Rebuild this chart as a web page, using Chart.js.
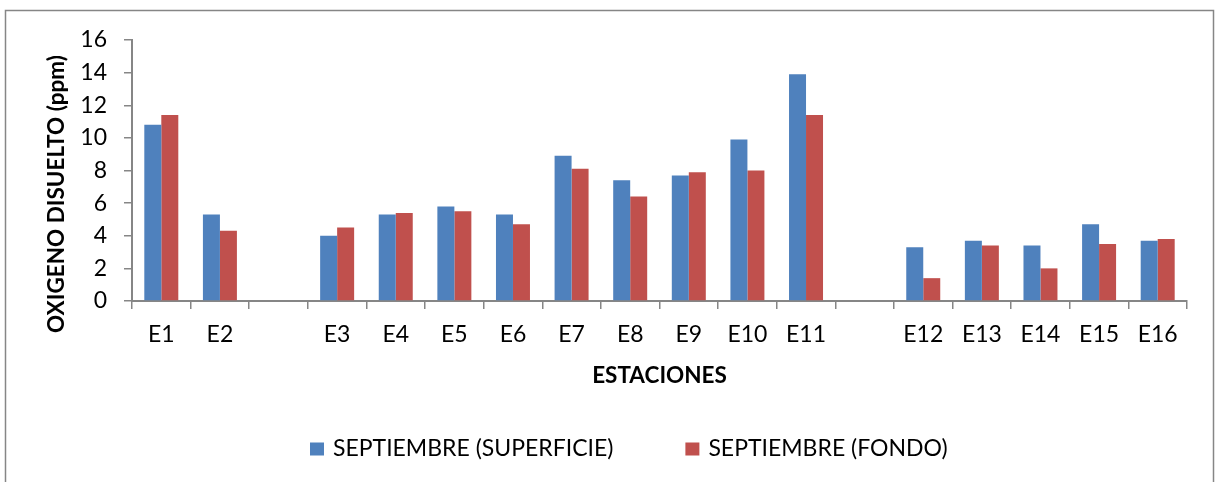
<!DOCTYPE html>
<html lang="es">
<head>
<meta charset="utf-8">
<title>Oxigeno disuelto</title>
<script src="https://cdn.jsdelivr.net/npm/chart.js@4.4.1/dist/chart.umd.min.js"></script>
<style>
  html, body { margin: 0; padding: 0; background: #fff; }
  #contenedor { position: relative; width: 1216px; height: 482px; }
</style>
</head>
<body>
<div id="contenedor"><canvas id="graficaOxigeno"></canvas></div>
<script>
// estaciones (los huecos separan los tramos de muestreo)
var estaciones = ["E1", "E2", "", "E3", "E4", "E5", "E6", "E7", "E8", "E9", "E10", "E11", "", "E12", "E13", "E14", "E15", "E16"];
var superficie = [10.8, 5.3, null, 4.0, 5.3, 5.8, 5.3, 8.9, 7.4, 7.7, 9.9, 13.9, null, 3.3, 3.7, 3.4, 4.7, 3.7];
var fondo = [11.4, 4.3, null, 4.5, 5.4, 5.5, 4.7, 8.1, 6.4, 7.9, 8.0, 11.4, null, 1.4, 3.4, 2.0, 3.5, 3.8];
var ticksY = [0, 2, 4, 6, 8, 10, 12, 14, 16];

var gris = "#868686";
var fuente = "Lato, 'Open Sans', sans-serif";

// marco, titulo del eje Y y leyenda inferior
var rotulos = {
    id: "rotulos",
    beforeDraw: function (chart) {
        var ctx = chart.ctx;
        ctx.save();
        ctx.fillStyle = "#fff";
        ctx.fillRect(0, 0, chart.width, chart.height);
        ctx.strokeStyle = gris;
        ctx.lineWidth = 1.5;
        ctx.strokeRect(5.5, 10.5, 1208, 500);
        ctx.restore();
    },
    afterDraw: function (chart) {
        var ctx = chart.ctx;
        ctx.save();
        ctx.fillStyle = "#000";
        ctx.font = "bold 22.5px " + fuente;
        ctx.textAlign = "center";
        ctx.textBaseline = "middle";
        ctx.translate(57, 194);
        ctx.rotate(-Math.PI / 2);
        ctx.fillText("OXIGENO DISUELTO (ppm)", 0, 0);
        ctx.restore();

        ctx.save();
        ctx.font = "23px " + fuente;
        ctx.textBaseline = "middle";
        var series = chart.data.datasets;
        var caja = 14, separacion = 9, entreItems = 72;
        var x = 310;
        var y = 449;
        series.forEach(function (ds) {
            ctx.fillStyle = ds.backgroundColor;
            ctx.fillRect(x, y - 6.5, caja, 13);
            x += caja + separacion;
            ctx.fillStyle = "#000";
            ctx.fillText(ds.label, x, y);
            x += ctx.measureText(ds.label).width + entreItems;
        });
        ctx.restore();
    }
};

new Chart("graficaOxigeno", {
    type: "bar",
    data: {
        labels: estaciones,
        datasets: [{
            label: "SEPTIEMBRE (SUPERFICIE)",
            data: superficie,
            backgroundColor: "#4F81BD"
        }, {
            label: "SEPTIEMBRE (FONDO)",
            data: fondo,
            backgroundColor: "#C0504D"
        }]
    },
    options: {
        responsive: true,
        maintainAspectRatio: false,
        animation: false,
        devicePixelRatio: 1,
        layout: { padding: { top: 40, right: 29, left: 0, bottom: 0 } },
        datasets: { bar: { categoryPercentage: 0.58, barPercentage: 1 } },
        plugins: {
            legend: { display: false },
            tooltip: { enabled: false }
        },
        scales: {
            x: {
                afterFit: function (escala) { escala.height = 181; },
                grid: { display: true, drawOnChartArea: false, color: gris, lineWidth: 1.5, tickLength: 8, offset: true },
                border: { color: gris, width: 2 },
                ticks: { color: "#000", font: { family: fuente, size: 23 }, padding: 12, maxRotation: 0, autoSkip: false },
                title: {
                    display: true,
                    text: "ESTACIONES",
                    color: "#000",
                    font: { family: fuente, size: 22.5, weight: "bold" },
                    padding: { top: 0, bottom: 93 }
                }
            },
            y: {
                min: 0,
                max: 16,
                afterFit: function (escala) { escala.width = 132; },
                afterBuildTicks: function (escala) {
                    escala.ticks = ticksY.map(function (v) { return { value: v }; });
                },
                grid: { display: true, drawOnChartArea: false, color: gris, lineWidth: 1.5, tickLength: 8 },
                border: { color: gris, width: 2 },
                ticks: { color: "#000", font: { family: fuente, size: 23 }, padding: 17 }
            }
        }
    },
    plugins: [rotulos]
});
</script>
</body>
</html>
